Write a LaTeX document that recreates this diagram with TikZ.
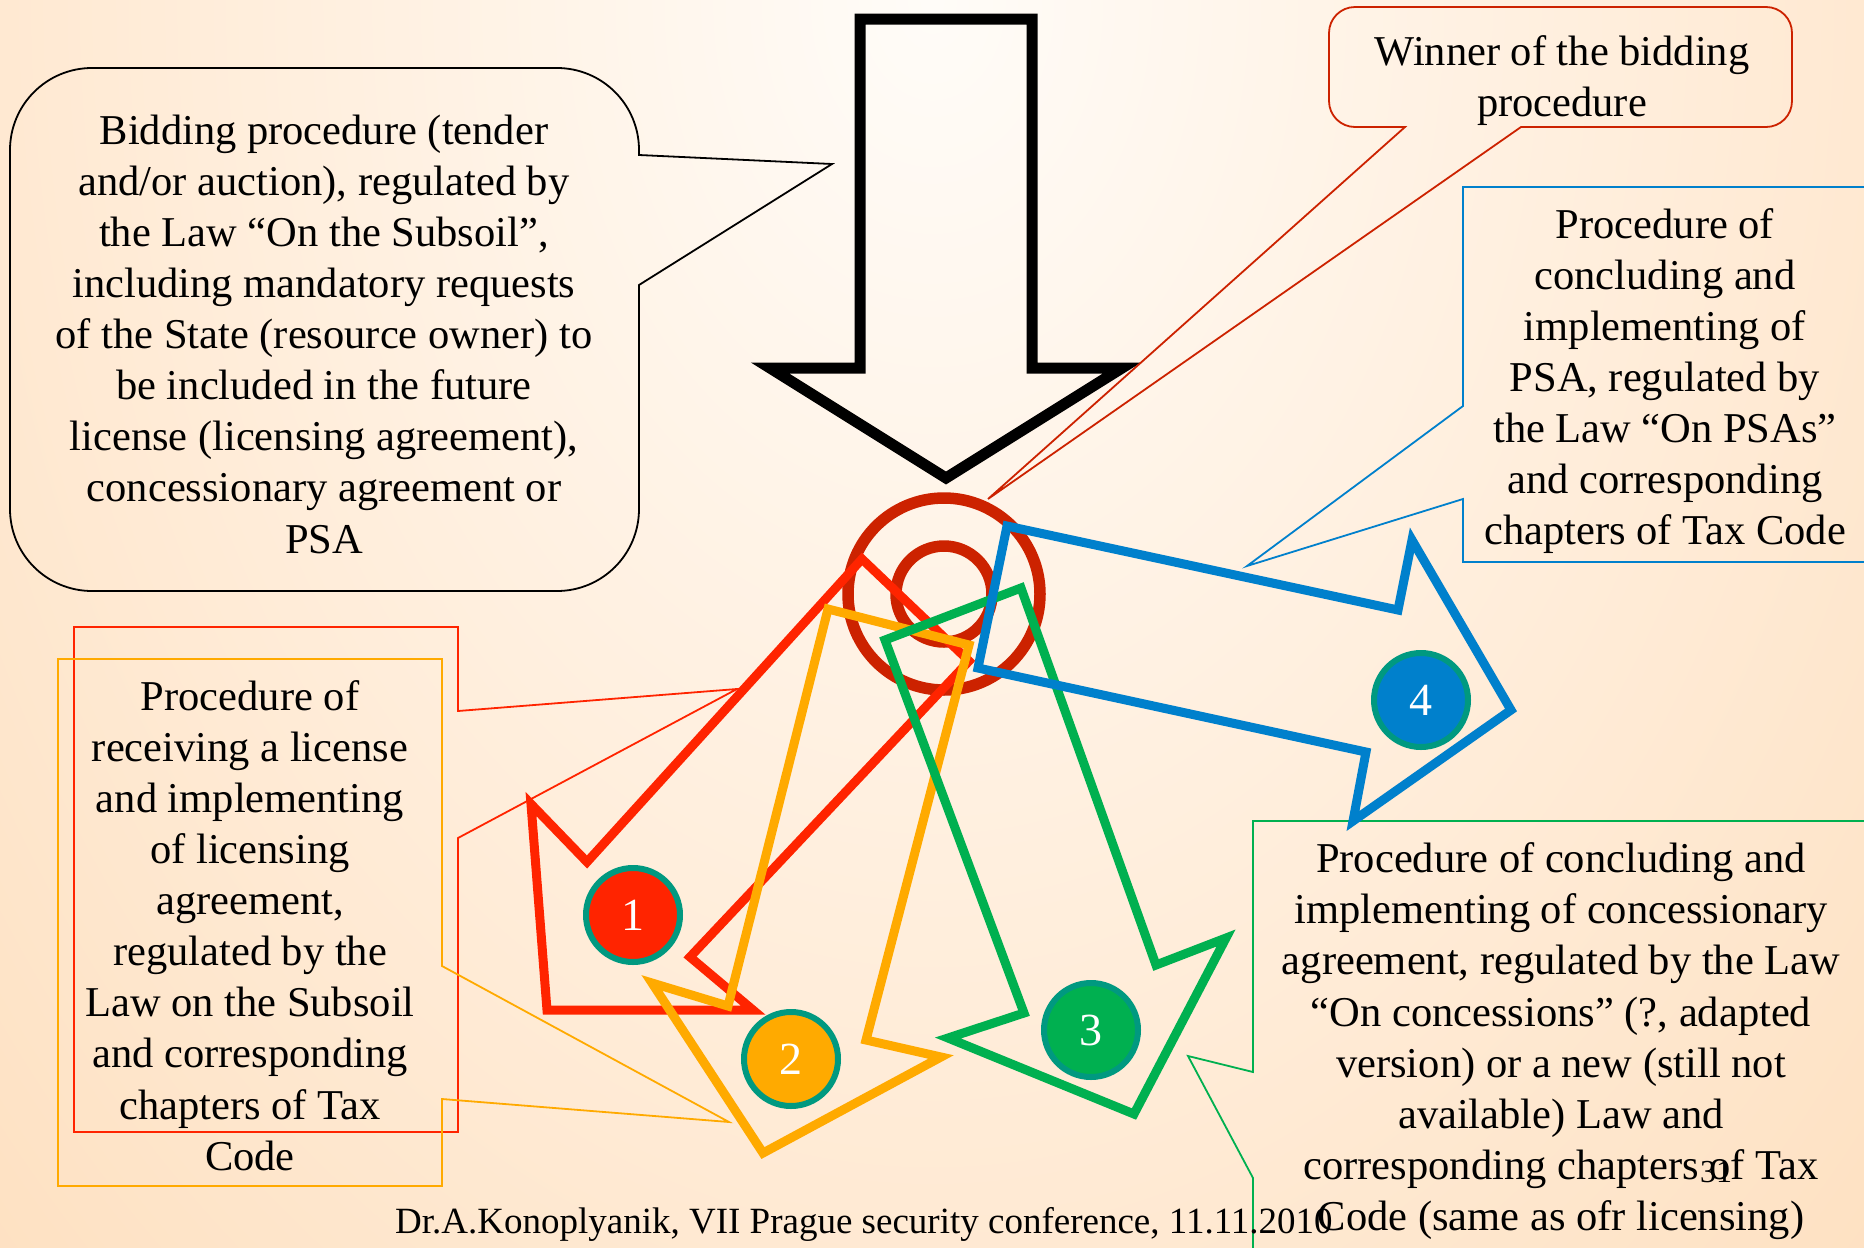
\documentclass[tikz,border=0pt]{standalone}
\usepackage{fontspec}
\setmainfont{Liberation Serif}
\definecolor{bgin}{RGB}{255,252,248}
\definecolor{bgout}{RGB}{254,213,170}
\definecolor{ringred}{RGB}{204,34,0}
\definecolor{arrred}{RGB}{255,36,0}
\definecolor{arrorange}{RGB}{255,170,0}
\definecolor{arrgreen}{RGB}{0,176,80}
\definecolor{arrblue}{RGB}{0,128,204}
\definecolor{badgeedge}{RGB}{0,153,128}
\tikzset{
  bigarrow/.style={draw=black, line width=11pt, line join=miter, miter limit=10},
  ringline/.style={draw=ringred, line width=11.5pt},
  blockarrow/.style={line width=9pt, line join=miter, miter limit=10},
  callout/.style={line width=1.8pt, line join=miter},
  badge/.style={circle, draw=badgeedge, line width=6pt, minimum size=94pt, inner sep=0pt,
    text=white, font=\fontsize{46}{50}\selectfont},
  body/.style={font=\fontsize{42.5}{51.1}\selectfont, align=center, inner sep=0pt, anchor=north},
}
\begin{document}
\begin{tikzpicture}[x=1pt,y=-1pt]
\useasboundingbox (0,0) rectangle (1864,1248);
\begin{scope}
\clip (0,0) rectangle (1864,1248);
% slide background: light centre fading to peach
\fill[bgout] (0,0) rectangle (1864,1248);
\shade[inner color=bgin, outer color=bgout] (932,0) ellipse [x radius=1900, y radius=2600];

% big downward block arrow
\draw[bigarrow] (860,19) -- (1032,19) -- (1032,368) -- (1122,368) -- (946,478)
  -- (770,368) -- (860,368) -- cycle;

% central double ring
\draw[ringline] (944,594) circle [radius=96];
\draw[ringline] (944,594) circle [radius=48];

% callout: bidding procedure
\draw[callout, draw=black] (92,68) -- (557,68) .. controls (602.3,68) and (639,104.7) .. (639,150)
  -- (639,155) -- (832,164) -- (639,285) -- (639,509)
  .. controls (639,554.3) and (602.3,591) .. (557,591) -- (92,591)
  .. controls (46.7,591) and (10,554.3) .. (10,509) -- (10,150)
  .. controls (10,104.7) and (46.7,68) .. (92,68) -- cycle;
\node[body] (bidding) at (324,104) {\rule{0pt}{40pt}Bidding procedure (tender\\
  and/or auction), regulated by\\
  the Law “On the Subsoil”,\\
  including mandatory requests\\
  of the State (resource owner) to\\
  be included in the future\\
  license (licensing agreement),\\
  concessionary agreement or\\
  PSA};

% callout: winner
\draw[callout, draw=ringred] (1355,7) -- (1766,7) .. controls (1780.4,7) and (1792,18.6) .. (1792,33)
  -- (1792,101) .. controls (1792,115.4) and (1780.4,127) .. (1766,127)
  -- (1521,127) -- (988,499) -- (1405,127) -- (1355,127)
  .. controls (1340.6,127) and (1329,115.4) .. (1329,101) -- (1329,33)
  .. controls (1329,18.6) and (1340.6,7) .. (1355,7) -- cycle;
\node[body] (winner) at (1562,25) {\rule{0pt}{40pt}Winner of the bidding\\procedure};

% callout: PSA
\draw[callout, draw=arrblue] (1463,187) -- (1880,187) -- (1880,562) -- (1463,562)
  -- (1463,499) -- (1247,566) -- (1463,406) -- cycle;
\node[body] (psa) at (1665,198) {\rule{0pt}{40pt}Procedure of\\
  concluding and\\
  implementing of\\
  PSA, regulated by\\
  the Law “On PSAs”\\
  and corresponding\\
  chapters of Tax Code};

% callouts: licensing (red and orange frames)
\draw[callout, draw=arrred] (74,627) -- (458,627) -- (458,711) -- (737,689) -- (458,838)
  -- (458,1132) -- (74,1132) -- cycle;
\draw[callout, draw=arrorange] (58,659) -- (442,659) -- (442,966) -- (729,1122) -- (442,1099)
  -- (442,1186) -- (58,1186) -- cycle;
\node[body] (licence) at (250,670) {\rule{0pt}{40pt}Procedure of\\
  receiving a license\\
  and implementing\\
  of licensing\\
  agreement,\\
  regulated by the\\
  Law on the Subsoil\\
  and corresponding\\
  chapters of Tax\\
  Code};

% callout: concession
\draw[callout, draw=arrgreen] (1253,1260) -- (1253,1178) -- (1188,1056) -- (1253,1072)
  -- (1253,821) -- (1880,821);
\node[body] (concession) at (1561,832.5) {\rule{0pt}{40pt}Procedure of concluding and\\
  implementing of concessionary\\
  agreement, regulated by the Law\\
  “On concessions” (?, adapted\\
  version) or a new (still not\\
  available) Law and\\
  corresponding chapters of Tax\\
  Code (same as ofr licensing)};

% four outgoing block arrows
\draw[blockarrow, draw=arrred] (862,559) -- (587,862) -- (531,804) -- (547,1010)
  -- (753,1010) -- (690,957) -- (969,661) -- cycle;
\draw[blockarrow, draw=arrorange] (828,609) -- (728,1006) -- (652,983) -- (763,1153)
  -- (941,1057) -- (866,1040) -- (969,645) -- cycle;
\draw[blockarrow, draw=arrgreen] (885,640) -- (1024,1013) -- (948,1038) -- (1134,1114)
  -- (1226,938) -- (1156,965) -- (1021,588) -- cycle;
\draw[blockarrow, draw=arrblue] (1007,526) -- (1398,610) -- (1412,540) -- (1511,710)
  -- (1353,821) -- (1366,752) -- (978,668) -- cycle;

% numbered badges
\node[badge, fill=arrred] (b1) at (633,915) {1};
\node[badge, fill=arrorange] (b2) at (791,1059) {2};
\node[badge, fill=arrgreen] (b3) at (1091,1030) {3};
\node[badge, fill=arrblue] (b4) at (1421,700) {4};

% footer and slide number
\node[anchor=base west, inner sep=0pt, font=\fontsize{37}{44}\selectfont] (footer) at (395,1233)
  {Dr.A.Konoplyanik, VII Prague security conference, 11.11.2010};
\node[anchor=base west, inner sep=0pt, font=\fontsize{32}{38}\selectfont] (slideno) at (1700,1182) {31};
\end{scope}
\end{tikzpicture}
\end{document}
